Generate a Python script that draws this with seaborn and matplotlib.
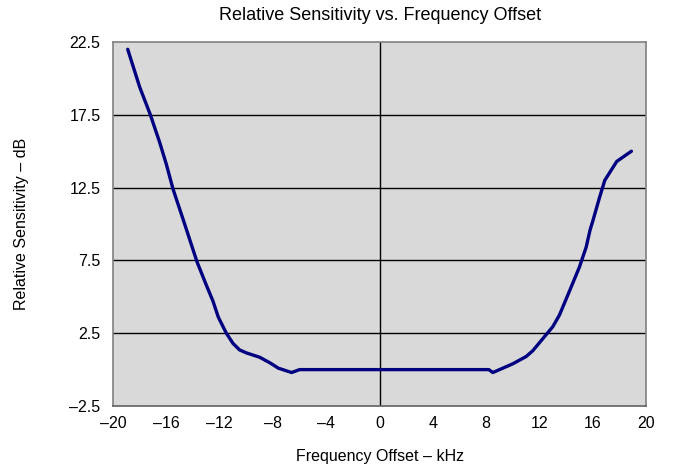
import matplotlib
matplotlib.use("Agg")
import matplotlib.pyplot as plt
import seaborn as sns
import pandas as pd

freq_khz = [-18.9, -18.0, -17.2, -16.5, -16.0, -15.5, -14.7, -13.7, -13.0, -12.5,
            -12.1, -11.5, -11.0, -10.5, -10.0, -9.0, -8.2, -7.6, -6.6, -6.0,
            -4.0, -2.0, 0.0, 2.0, 4.0, 6.0, 8.2, 8.5, 10.0, 11.0,
            11.5, 12.5, 13.0, 13.5, 14.3, 15.0, 15.5, 15.8, 16.0, 16.5,
            16.9, 17.8, 18.9]
sens_db = [22.0, 19.4, 17.5, 15.6, 14.1, 12.4, 10.2, 7.4, 5.8, 4.7,
           3.6, 2.5, 1.8, 1.35, 1.15, 0.85, 0.45, 0.1, -0.2, 0.0,
           0.0, 0.0, 0.0, 0.0, 0.0, 0.0, 0.0, -0.2, 0.4, 0.9,
           1.3, 2.4, 2.95, 3.75, 5.5, 7.05, 8.4, 9.6, 10.2, 11.8,
           13.0, 14.3, 15.0]
x_ticks = [-20, -16, -12, -8, -4, 0, 4, 8, 12, 16, 20]
y_ticks = [-2.5, 2.5, 7.5, 12.5, 17.5, 22.5]

df = pd.DataFrame({"f": freq_khz, "s": sens_db})

sns.set_style("white")
plt.rcParams["font.family"] = ["Liberation Sans", "DejaVu Sans"]
plt.rcParams["text.color"] = "black"
plt.rcParams["axes.labelcolor"] = "black"
plt.rcParams["xtick.color"] = "black"
plt.rcParams["ytick.color"] = "black"

fig = plt.figure(figsize=(6.73, 4.67), dpi=100)
ax = fig.add_axes([0.168, 0.1306, 0.792, 0.7794])
ax.set_facecolor("#d9d9d9")

for yv in y_ticks[1:-1]:
    ax.axhline(yv, color="black", lw=1.0, zorder=1)
ax.axvline(0, color="black", lw=1.0, zorder=1)

sns.lineplot(data=df, x="f", y="s", sort=False, color="#000080", lw=2.4, ax=ax, zorder=3)

ax.set_xlim(-20, 20)
ax.set_ylim(-2.5, 22.5)
ax.set_xticks(x_ticks)
ax.set_xticklabels([str(v).replace("-", "\u2013") for v in x_ticks])
ax.set_yticks(y_ticks)
ax.set_yticklabels([str(v).replace("-", "\u2013") for v in y_ticks])
ax.tick_params(axis="x", direction="out", length=5, width=1, color="black", labelsize=11.5, pad=2)
ax.tick_params(axis="y", length=0, labelsize=11.5, pad=9)
for side in ["left", "right", "top", "bottom"]:
    ax.spines[side].set_visible(True)
    ax.spines[side].set_color("#808080")
    ax.spines[side].set_linewidth(1.2)
ax.spines["bottom"].set_color("#606060")

ax.set_xlabel("Frequency Offset \u2013 kHz", fontsize=11.5, labelpad=13)
ax.set_ylabel("Relative Sensitivity \u2013 dB", fontsize=11.5, labelpad=29)
ax.set_title("Relative Sensitivity vs. Frequency Offset", fontsize=13, pad=15, y=1.0)
ax.title.set_position((0.5, 1.0))
fig.texts.clear() if hasattr(fig.texts, "clear") else None
ax.set_title("")
fig.text(0.5 * (0.168 + 0.96), 1 - 15 / 467, "Relative Sensitivity vs. Frequency Offset",
         fontsize=13, ha="center", va="center")

fig.savefig("out.png", dpi=100)
